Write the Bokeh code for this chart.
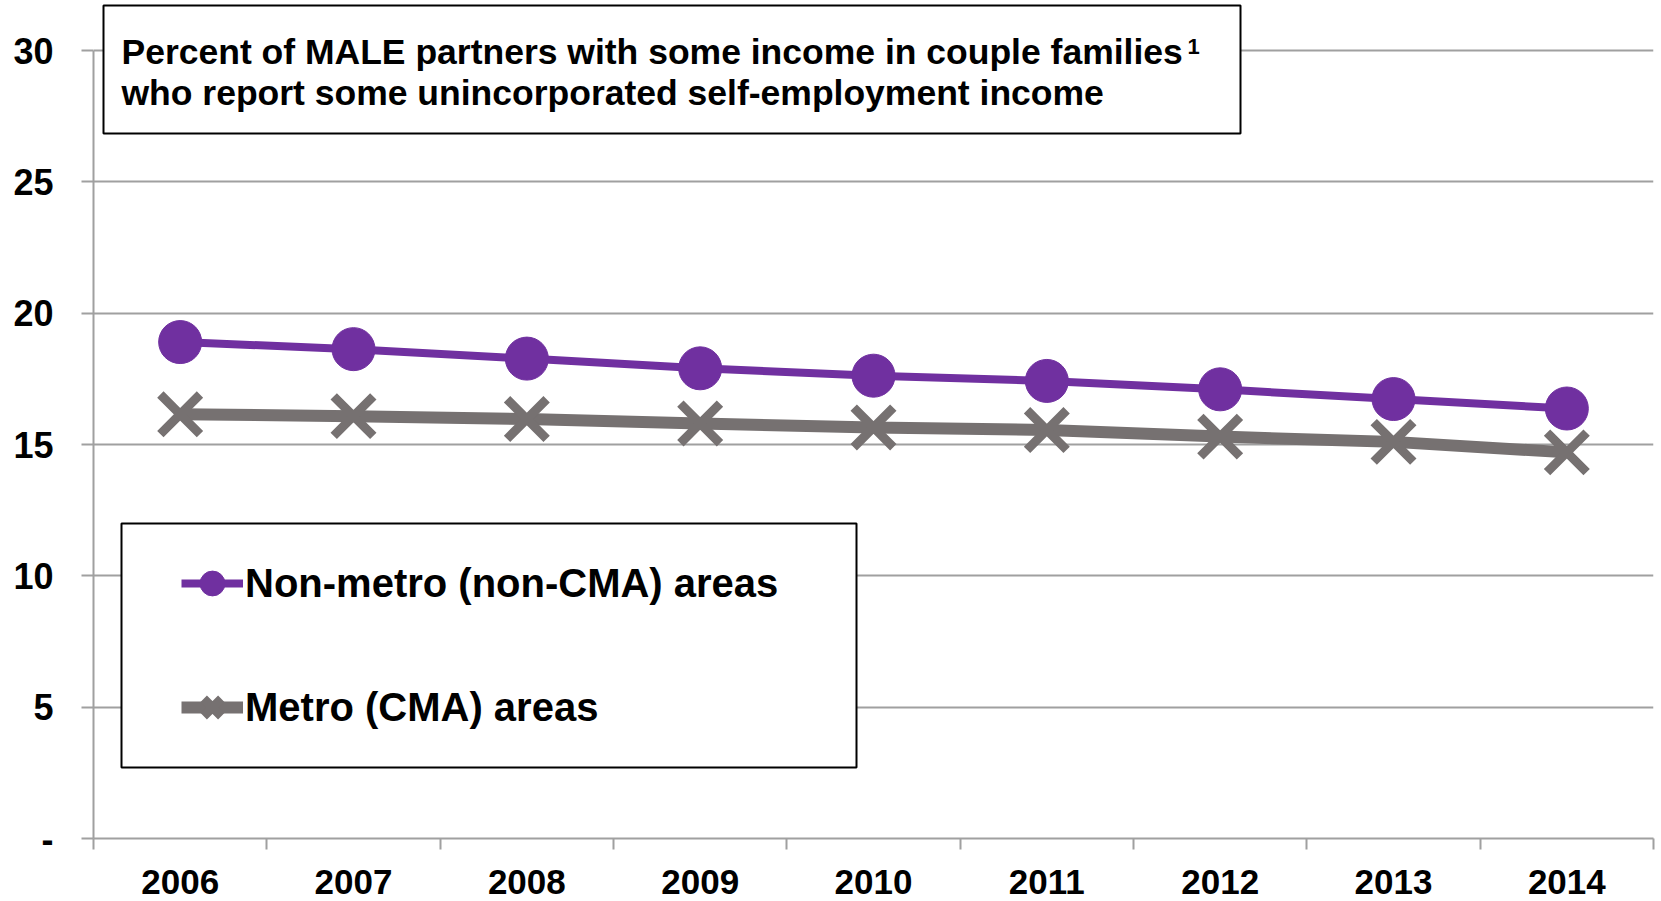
from bokeh.plotting import figure
from bokeh.models import (Range1d, FixedTicker, BoxAnnotation, Label, Legend,
                          LegendItem, ColumnDataSource)
from bokeh.embed import file_html
from bokeh.resources import INLINE

# ---------------- data ----------------
years = ["2006", "2007", "2008", "2009", "2010", "2011", "2012", "2013", "2014"]
non_metro = [18.9, 18.63, 18.27, 17.9, 17.62, 17.42, 17.1, 16.73, 16.37]
metro = [16.15, 16.08, 15.97, 15.8, 15.65, 15.55, 15.3, 15.1, 14.7]
y_ticks = [0, 5, 10, 15, 20, 25, 30]
y_tick_labels = ["-", "5", "10", "15", "20", "25", "30"]
series_names = ["Non-metro (non-CMA) areas", "Metro (CMA) areas"]
title_lines = ["Percent of MALE partners with some income in couple families",
               "who report some unincorporated self-employment income"]
title_note = "1"

# ---------------- style / layout ----------------
PURPLE = "#7030A0"
GRAY = "#767171"
AXIS = "#A0A0A0"
FONT = "Liberation Sans"

W, H = 1661, 899
FRAME_L, FRAME_R, FRAME_T, FRAME_B = 93, 1653, 3, 838
Y30_PX = 50                      # pixel row of the 30 gridline
Y_END = 30 * (FRAME_B - FRAME_T) / (FRAME_B - Y30_PX)
X_START, X_END = -0.5, len(years) - 0.5


def fx(px):
    """page pixel column -> data x"""
    return X_START + (px - FRAME_L) * (X_END - X_START) / (FRAME_R - FRAME_L)


def fy(py):
    """page pixel row -> data y"""
    return (FRAME_B - py) * Y_END / (FRAME_B - FRAME_T)


xs = list(range(len(years)))
src = ColumnDataSource(dict(x=xs, non_metro=non_metro, metro=metro))

p = figure(width=W, height=H,
           x_range=Range1d(X_START, X_END), y_range=Range1d(0, Y_END),
           output_backend="svg", toolbar_location=None,
           min_border_left=FRAME_L, min_border_right=W - FRAME_R,
           min_border_top=FRAME_T, min_border_bottom=H - FRAME_B)
p.outline_line_color = None
p.background_fill_color = "white"
p.border_fill_color = "white"

# axes
xt = FixedTicker(ticks=xs, minor_ticks=[i - 0.5 for i in range(len(years) + 1)])
p.xaxis.ticker = xt
p.xaxis.major_label_overrides = {i: y for i, y in zip(xs, years)}
p.xaxis.major_tick_line_color = None
p.xaxis.major_tick_out = 0
p.xaxis.major_tick_in = 0
p.xaxis.minor_tick_out = 11
p.xaxis.minor_tick_in = 0
p.xaxis.minor_tick_line_color = AXIS
p.xaxis.minor_tick_line_width = 2
p.xaxis.major_label_standoff = 20

yt = FixedTicker(ticks=y_ticks, minor_ticks=[])
p.yaxis.ticker = yt
p.yaxis.bounds = (0, 30)
p.yaxis.major_label_overrides = {t: l for t, l in zip(y_ticks, y_tick_labels)}
p.yaxis.major_tick_out = 12
p.yaxis.major_tick_in = 0
p.yaxis.major_tick_line_color = AXIS
p.yaxis.major_tick_line_width = 2
p.yaxis.minor_tick_line_color = None
p.yaxis.major_label_standoff = 28

for ax in (p.xaxis, p.yaxis):
    ax.axis_line_color = AXIS
    ax.axis_line_width = 2
    ax.major_label_text_font = FONT
    ax.major_label_text_font_style = "bold"
    ax.major_label_text_color = "black"
p.xaxis.major_label_text_font_size = "35px"
p.yaxis.major_label_text_font_size = "36px"

p.xgrid.visible = False
p.ygrid.ticker = yt
p.ygrid.grid_line_color = AXIS
p.ygrid.grid_line_width = 2

# series
l1 = p.line("x", "non_metro", source=src, line_color=PURPLE, line_width=8)
m1 = p.scatter("x", "non_metro", source=src, marker="circle", size=43,
               fill_color=PURPLE, line_color=PURPLE)
l2 = p.line("x", "metro", source=src, line_color=GRAY, line_width=12)
m2 = p.scatter("x", "metro", source=src, marker="x", size=56,
               line_color=GRAY, line_width=9)

# title box
title_box = BoxAnnotation(left=fx(103), right=fx(1240), top=fy(5), bottom=fy(133),
                          fill_color="white", fill_alpha=1.0,
                          line_color="black", line_alpha=1.0, line_width=2)
p.add_layout(title_box)
for txt, py in zip(title_lines, [51, 92]):
    p.add_layout(Label(x=121 - FRAME_L, y=FRAME_B - py, x_units="screen",
                       y_units="screen", text=txt,
                       text_font=FONT, text_font_style="bold",
                       text_font_size="35.5px", text_baseline="middle",
                       text_color="black"))
p.add_layout(Label(x=1187 - FRAME_L, y=FRAME_B - 46, x_units="screen",
                   y_units="screen", text=title_note, text_font=FONT,
                   text_font_style="bold", text_font_size="22px",
                   text_baseline="middle", text_color="black"))

# legend box + legend
legend_box = BoxAnnotation(left=fx(121), right=fx(856), top=fy(523), bottom=fy(767),
                           fill_color="white", fill_alpha=1.0,
                           line_color="black", line_alpha=1.0, line_width=2)
p.add_layout(legend_box)

legend = Legend(items=[LegendItem(label=series_names[0], renderers=[l1, m1]),
                       LegendItem(label=series_names[1], renderers=[l2, m2])],
                location=(88, FRAME_B - 747),
                orientation="vertical", padding=10,
                spacing=44, margin=0, glyph_width=62, glyph_height=80,
                label_standoff=2, label_text_font=FONT,
                label_text_font_style="bold", label_text_font_size="40px",
                label_text_color="black",
                border_line_color=None, background_fill_alpha=0)
p.add_layout(legend)

open("out.html", "w").write(file_html(p, INLINE))
